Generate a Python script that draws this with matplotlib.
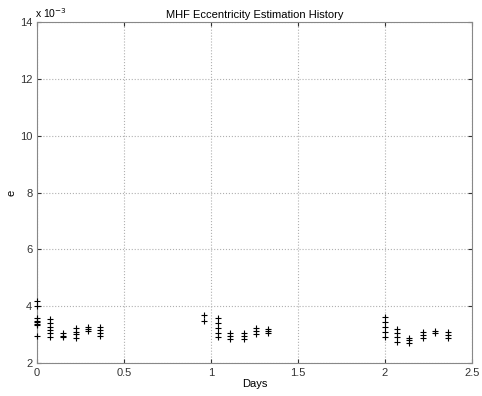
import numpy as np
import matplotlib.pyplot as plt

plt.rcParams['font.family'] = ['Liberation Sans', 'DejaVu Sans']

# estimation epochs (days) and eccentricity estimates (x 1e-3)
days = [0.0] * 8 + [0.075] * 6 + [0.15] * 3 + [0.225] * 4 + [0.29] * 3 + [0.36] * 4 \
    + [0.96] * 2 + [1.04] * 5 + [1.11] * 3 + [1.19] * 3 + [1.26] * 3 + [1.33] * 3 \
    + [2.0] * 5 + [2.07] * 4 + [2.14] * 3 + [2.22] * 3 + [2.29] * 2 + [2.36] * 3
ecc = [4.2, 4.0, 3.6, 3.5, 3.45, 3.38, 3.33, 2.95,
       3.54, 3.40, 3.26, 3.16, 3.05, 2.91,
       3.05, 2.97, 2.92,
       3.23, 3.09, 3.02, 2.90,
       3.28, 3.2, 3.12,
       3.26, 3.17, 3.05, 2.95,
       3.68, 3.50,
       3.58, 3.40, 3.23, 3.05, 2.91,
       3.05, 2.95, 2.86,
       3.05, 2.95, 2.84,
       3.23, 3.12, 3.04,
       3.2, 3.12, 3.07,
       3.61, 3.44, 3.26, 3.09, 2.91,
       3.19, 3.05, 2.91, 2.76,
       2.90, 2.80, 2.72,
       3.09, 2.98, 2.88,
       3.12, 3.07,
       3.09, 2.99, 2.90]

fig = plt.figure(figsize=(4.82, 3.96), dpi=100)
ax = fig.add_axes([0.077, 0.083, 0.902, 0.861])
ax.plot(days, np.array(ecc) * 1e-3, '+', color='black', markersize=5,
        markeredgewidth=0.8, clip_on=False, zorder=3)

ax.set_xlim(0, 2.5)
ax.set_ylim(2e-3, 14e-3)
ax.set_xticks([0, 0.5, 1, 1.5, 2, 2.5])
ax.set_xticklabels(['0', '0.5', '1', '1.5', '2', '2.5'])
ax.set_yticks(np.arange(2, 15, 2) * 1e-3)
ax.set_yticklabels([str(v) for v in range(2, 15, 2)])
ax.grid(True, linestyle=':', color='#b0b0b0', linewidth=0.8)
for s in ax.spines.values():
    s.set_color('#888888')
ax.tick_params(labelsize=8, colors='#333333', length=3, direction='in',
               top=True, right=True)
ax.text(-0.005, 1.005, r'x 10$^{-3}$', transform=ax.transAxes, fontsize=7.5, va='bottom')
ax.set_title('MHF Eccentricity Estimation History', fontsize=8, pad=3)
ax.set_xlabel('Days', fontsize=8, labelpad=1)
ax.set_ylabel('e', fontsize=8, labelpad=2)

fig.savefig('out.png', dpi=100)
